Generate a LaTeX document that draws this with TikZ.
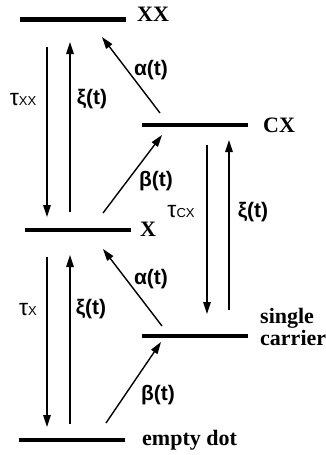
\documentclass[tikz,border=0pt]{standalone}
\usepackage{fontspec}
\setmainfont{Liberation Serif}
\newfontfamily\ratefont{Liberation Sans}
\usetikzlibrary{arrows.meta,calc}
\tikzset{
  level/.style={fill=black, minimum width=106pt, minimum height=4.5pt, inner sep=0pt},
  levellabel/.style={anchor=west, inner sep=0pt, align=left,
    font=\fontsize{22}{19}\selectfont\bfseries},
  rate/.style={-{Triangle[length=12pt,width=7.5pt]}, line width=1.4pt},
  ratelabel/.style={inner sep=0pt, font=\ratefont\fontsize{21}{21}\selectfont\bfseries},
  lifelabel/.style={inner sep=0pt, font=\ratefont\fontsize{23}{23}\selectfont},
}
\newcommand{\life}[1]{τ{\fontsize{13}{13}\selectfont #1}}

\begin{document}
\begin{tikzpicture}[x=1pt, y=-1pt]
  \useasboundingbox (0,0) rectangle (326,455);
  % levels
  \node[level] (xx) at (73,19.5) {};
  \node[level] (x)  at (77.5,230) {};
  \node[level] (e)  at (71.5,440) {};
  \node[level] (cx) at (194.5,125) {};
  \node[level] (sc) at (194.5,336) {};
  \node[levellabel] (xxlab) at (137,14) {XX};
  \node[levellabel] (xlab)  at (140,229) {X};
  \node[levellabel] (elab)  at (142,440) {empty dot};
  \node[levellabel] (cxlab) at (263,125) {CX};
  \node[levellabel] (sclab) at (260,327) {single\\carrier};
  % left column
  \draw[rate] ($(xx)+(-26,27.5)$) -- ($(x)+(-30.5,-13)$);
  \draw[rate] ($(x)+(-7.5,-18)$) -- ($(xx)+(-3,22.5)$);
  \draw[rate] ($(x)+(-30.5,27)$) -- ($(e)+(-24.5,-13)$);
  \draw[rate] ($(e)+(-1.5,-16)$) -- ($(x)+(-7.5,25)$);
  % right column
  \draw[rate] ($(cx)+(12.5,20)$) -- ($(sc)+(12.5,-22)$);
  \draw[rate] ($(sc)+(34.5,-26)$) -- ($(cx)+(34.5,15)$);
  % diagonals
  \draw[rate] ($(cx)+(-34.5,-12)$) -- ($(xx)+(29,17.5)$);
  \draw[rate] ($(x)+(25.5,-17)$) -- ($(cx)+(-32.5,10)$);
  \draw[rate] ($(sc)+(-32.5,-10)$) -- ($(x)+(25.5,19)$);
  \draw[rate] ($(e)+(34.5,-17)$) -- ($(sc)+(-33.5,6)$);
  % rates
  \node[lifelabel] (txx) at (23,100) {\life{XX}};
  \node[ratelabel] (xi1) at (92,99) {ξ(t)};
  \node[ratelabel] (al1) at (151,70) {α(t)};
  \node[ratelabel] (be1) at (156,181) {β(t)};
  \node[lifelabel] (tcx) at (181,212) {\life{CX}};
  \node[ratelabel] (xi2) at (253,212) {ξ(t)};
  \node[lifelabel] (tx)  at (28,310) {\life{X}};
  \node[ratelabel] (xi3) at (91,309) {ξ(t)};
  \node[ratelabel] (al2) at (151,279) {α(t)};
  \node[ratelabel] (be2) at (158,395) {β(t)};
\end{tikzpicture}
\end{document}
